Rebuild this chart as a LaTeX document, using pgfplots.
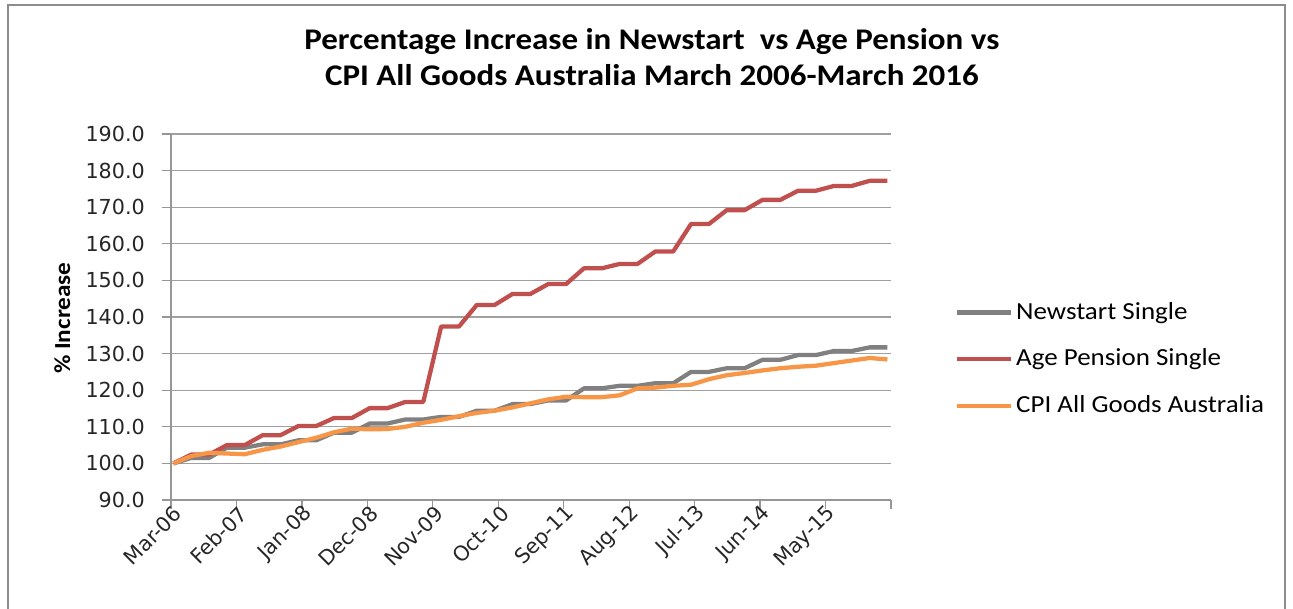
\documentclass[border=0pt]{standalone}
\usepackage{fontspec}
\setmainfont{Carlito}[FakeStretch=1.1]
\newfontfamily\tickfont{DejaVu Sans}
\usepackage{pgfplots}
\usepackage{pgfplotstable}
\pgfplotsset{compat=1.18}
\definecolor{nsgray}{RGB}{128,128,128}
\definecolor{apred}{RGB}{192,80,77}
\definecolor{cpiorange}{RGB}{247,150,70}
\definecolor{gridgray}{RGB}{160,160,160}
\definecolor{axisgray}{RGB}{150,150,150}
\definecolor{framegray}{RGB}{140,140,140}
\pgfplotstableread{
x ns ap cpi
0.4 100.0 100.0 100.0
3.4 101.5 102.4 102.0
6.4 101.5 102.4 102.9
9.4 104.3 105.0 102.7
12.4 104.3 105.0 102.5
15.4 105.2 107.7 103.7
18.4 105.2 107.7 104.6
21.4 106.3 110.2 105.8
24.4 106.3 110.2 107.0
27.4 108.4 112.4 108.5
30.4 108.4 112.4 109.5
33.4 110.9 115.1 109.3
36.4 110.9 115.1 109.4
39.4 112.0 116.8 110.0
42.4 112.0 116.8 111.1
45.4 112.7 137.4 111.9
48.4 112.7 137.4 112.9
51.4 114.4 143.3 113.8
54.4 114.4 143.3 114.4
57.4 116.2 146.3 115.3
60.4 116.2 146.3 116.4
63.4 117.2 149.0 117.5
66.4 117.2 149.0 118.2
69.4 120.5 153.3 118.1
72.4 120.5 153.3 118.1
75.4 121.2 154.5 118.6
78.4 121.2 154.5 120.5
81.4 121.9 157.9 120.7
84.4 121.9 157.9 121.2
87.4 125.0 165.4 121.5
90.4 125.0 165.4 123.0
93.4 126.0 169.2 124.1
96.4 126.0 169.2 124.7
99.4 128.3 172.0 125.4
102.4 128.3 172.0 126.0
105.4 129.6 174.5 126.4
108.4 129.6 174.5 126.7
111.4 130.7 175.8 127.4
114.4 130.7 175.8 128.1
117.4 131.7 177.2 128.8
120.4 131.7 177.2 128.4
}\datatable
\begin{document}
\begin{tikzpicture}[x=0.75pt,y=0.75pt]
\useasboundingbox (0,0) rectangle (1293,609);
\begin{axis}[
  at={(128.25pt,81.75pt)}, anchor=south west,
  scale only axis, width=540pt, height=274.5pt,
  xmin=0, xmax=121, ymin=90, ymax=190,
  axis x line*=bottom, axis y line*=left,
  axis line style={draw=axisgray, line width=0.9pt},
  xtick={0,11,...,121},
  xticklabels={Mar-06,Feb-07,Jan-08,Dec-08,Nov-09,Oct-10,Sep-11,Aug-12,Jul-13,Jun-14,May-15,},
  ytick={90,100,...,190},
  tick align=outside, major tick length=6.5pt,
  tick style={draw=axisgray, line width=0.9pt},
  ymajorgrids, major grid style={draw=gridgray, line width=0.8pt},
  /pgf/number format/assume math mode=true,
  yticklabel style={/pgf/number format/fixed, /pgf/number format/fixed zerofill, /pgf/number format/precision=1},
  yticklabel style={font=\tickfont\fontsize{15.5}{18}\selectfont, text=black!85, anchor=east, inner sep=0pt, xshift=-13pt},
  xticklabel style={font=\tickfont\fontsize{15.5}{18}\selectfont, text=black!85, rotate=45, anchor=east, inner sep=0pt, yshift=-4.5pt, xshift=3pt},
  ylabel={\% Increase},
  ylabel style={font=\bfseries\fontsize{17.2}{20}\selectfont, at={(axis description cs:-0.151,0.497)}, anchor=center},
  title={Percentage Increase in Newstart\ \ vs Age Pension vs\\CPI All Goods\ Australia\ March 2006-March 2016},
  title style={font=\bfseries\fontsize{22.5}{27}\selectfont, align=center, at={(axis description cs:0.668,1.189)}, anchor=center},
  legend style={at={(axis description cs:1.088,0.385)}, anchor=west, draw=none, fill=none, inner sep=0pt,
    font=\fontsize{18.4}{21}\selectfont, row sep=17pt,
    nodes={inner sep=0pt, text height=14pt, text depth=4pt}},
  legend cell align=left,
  legend image code/.code={\draw[#1, line width=3.2pt] (0pt,0pt) -- (41pt,0pt);},
  every axis plot/.append style={line width=3.2pt, line join=round, mark=none},
]
\addplot[color=nsgray] table[x=x, y=ns] {\datatable};
\addlegendentry{\hspace{2pt}Newstart Single}
\addplot[color=apred] table[x=x, y=ap] {\datatable};
\addlegendentry{\hspace{2pt}Age Pension Single}
\addplot[color=cpiorange] table[x=x, y=cpi] {\datatable};
\addlegendentry{\hspace{2pt}CPI All Goods Australia}
\end{axis}
\draw[framegray, line width=1.2pt] (8,-20) -- (8,604) -- (1285,604) -- (1285,-20);
\end{tikzpicture}
\end{document}
